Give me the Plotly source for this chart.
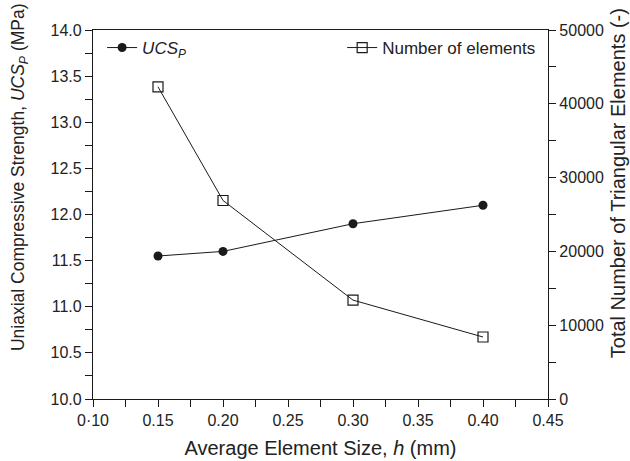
import plotly.graph_objects as go

# Average element size h (mm)
h_mm = [0.15, 0.20, 0.30, 0.40]
# Peak uniaxial compressive strength (MPa)
ucs_p = [11.55, 11.60, 11.90, 12.10]
# Total number of triangular elements
n_elements = [42300, 26900, 13400, 8400]

x_tickvals = [0.10, 0.15, 0.20, 0.25, 0.30, 0.35, 0.40, 0.45]
x_ticktext = ["0·10", "0.15", "0.20", "0.25", "0.30", "0.35", "0.40", "0.45"]

FONT = "Liberation Sans, Arial, sans-serif"
INK = "#1a1a1a"
TXT = "#222"

fig = go.Figure()

fig.add_trace(go.Scatter(
    x=h_mm, y=ucs_p, mode="lines+markers",
    name="<i>UCS</i><sub><i>P</i></sub>",
    line=dict(color=INK, width=1),
    marker=dict(symbol="circle", size=9, color=INK),
    legend="legend",
))

fig.add_trace(go.Scatter(
    x=h_mm, y=n_elements, mode="lines+markers",
    name="Number of elements",
    line=dict(color=INK, width=1),
    marker=dict(symbol="square-open", size=10, color=INK, line=dict(width=1.2)),
    yaxis="y2",
    legend="legend2",
))

axis_common = dict(
    showline=True, linecolor=INK, linewidth=1.3,
    ticks="outside", ticklen=7, tickwidth=1.2, tickcolor=INK,
    showgrid=False, zeroline=False, automargin=False,
    tickfont=dict(family=FONT, size=16, color=TXT),
)
minor_common = dict(ticks="outside", ticklen=7, tickwidth=1.2, tickcolor=INK)

fig.update_layout(
    width=630, height=461,
    margin=dict(l=93, r=82, t=30, b=62),
    paper_bgcolor="white", plot_bgcolor="white",
    font=dict(family=FONT, color=TXT),
    xaxis=dict(
        **axis_common,
        range=[0.10, 0.45],
        tickvals=x_tickvals, ticktext=x_ticktext,
        minor=dict(**minor_common, dtick=0.025, tick0=0.10),
        mirror=True,
        title=dict(text="Average Element Size, <i>h</i> (mm)",
                   font=dict(family=FONT, size=20, color=TXT), standoff=12),
    ),
    yaxis=dict(
        **axis_common,
        range=[10.0, 14.0], dtick=0.5, tick0=10.0, tickformat=".1f",
        minor=dict(**minor_common, dtick=0.25, tick0=10.0),
    ),
    yaxis2=dict(
        **axis_common,
        overlaying="y", side="right",
        range=[0, 50000], dtick=10000, tick0=0, tickformat="d",
        minor=dict(**minor_common, dtick=5000, tick0=0),
    ),
    legend=dict(
        x=0.02, y=1.0, xanchor="left", yanchor="top",
        bgcolor="rgba(0,0,0,0)", borderwidth=0,
        font=dict(family=FONT, size=17, color=TXT),
        itemwidth=30,
    ),
    legend2=dict(
        x=0.985, y=1.0, xanchor="right", yanchor="top",
        bgcolor="rgba(0,0,0,0)", borderwidth=0,
        font=dict(family=FONT, size=17, color=TXT),
        itemwidth=30,
    ),
    showlegend=True,
)

# Vertical axis titles, set slightly above the axis midpoint
fig.add_annotation(
    text="Uniaxial Compressive Strength, <i>UCS</i><sub><i>P</i></sub> (MPa)",
    xref="paper", yref="paper", x=-0.160, y=0.602,
    xanchor="center", yanchor="middle", textangle=-90, showarrow=False,
    font=dict(family=FONT, size=17.5, color=TXT),
)
fig.add_annotation(
    text="Total Number of Triangular Elements (-)",
    xref="paper", yref="paper", x=1.154, y=0.585,
    xanchor="center", yanchor="middle", textangle=-90, showarrow=False,
    font=dict(family=FONT, size=20, color=TXT),
)

fig.write_html("out.html")
